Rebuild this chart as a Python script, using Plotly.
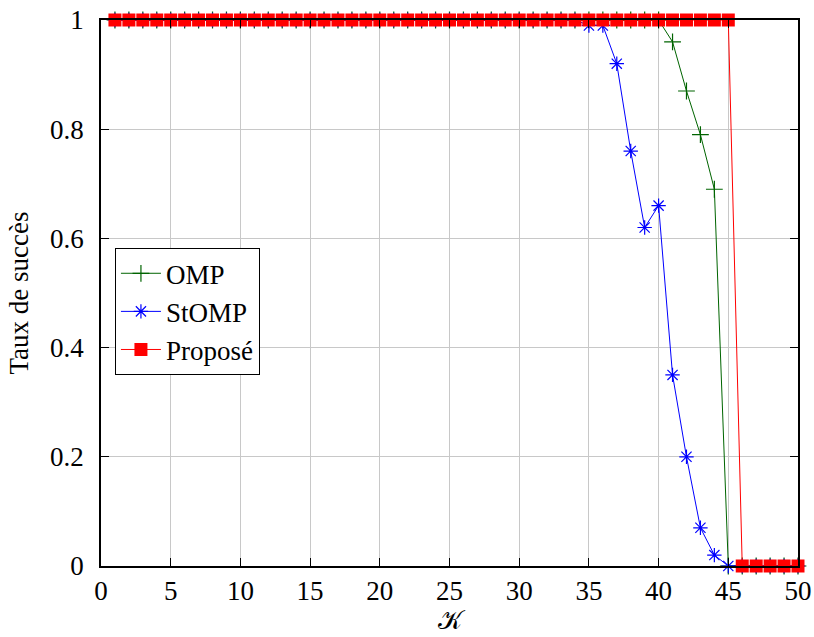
import plotly.graph_objects as go

K = list(range(1, 51))
omp = [1.0] * 40 + [0.96, 0.87, 0.79, 0.69, 0.0, 0.0, 0.0, 0.0, 0.0, 0.0]
stomp = [1.0] * 34 + [0.99, 0.99, 0.92, 0.76, 0.62, 0.66, 0.35, 0.20, 0.07, 0.02, 0.0,
                      0.0, 0.0, 0.0, 0.0, 0.0]
propose = [1.0] * 45 + [0.0] * 5

x_ticks = list(range(0, 51, 5))
y_ticks = [0, 0.2, 0.4, 0.6, 0.8, 1]
y_tick_labels = ["0", "0.2", "0.4", "0.6", "0.8", "1"]

FONT = "Liberation Serif"

fig = go.Figure()
fig.add_trace(go.Scatter(x=K, y=omp, name="OMP", mode="lines+markers",
                         line=dict(color="#006400", width=1),
                         marker=dict(symbol="cross-thin", size=12,
                                     line=dict(color="#006400", width=1.2)),
                         cliponaxis=False))
fig.add_trace(go.Scatter(x=K, y=stomp, name="StOMP", mode="lines+markers",
                         line=dict(color="#0000ff", width=1),
                         marker=dict(symbol="asterisk-open", size=12,
                                     line=dict(color="#0000ff", width=1.2)),
                         cliponaxis=False))
fig.add_trace(go.Scatter(x=K, y=propose, name="Proposé", mode="lines+markers",
                         line=dict(color="#ff0000", width=1),
                         marker=dict(symbol="square", size=13, color="#ff0000"),
                         cliponaxis=False))

axis_common = dict(showline=True, linecolor="black", linewidth=1.5, mirror="allticks",
                   ticks="inside", ticklen=8, tickcolor="black", tickwidth=1,
                   showgrid=True, gridcolor="#c8c8c8", gridwidth=1, zeroline=False,
                   automargin=False, ticklabeloverflow="allow",
                   tickfont=dict(family=FONT, size=27, color="black"))

fig.update_xaxes(range=[0, 50], tickvals=x_ticks, ticklabelstandoff=0,
                 title=dict(text="𝒦", font=dict(family=FONT, size=26, color="black"), standoff=0),
                 **axis_common)
fig.update_yaxes(range=[0, 1], tickvals=y_ticks, ticktext=y_tick_labels, ticklabelstandoff=10,
                 title=dict(text="Taux de succès", font=dict(family=FONT, size=27, color="black"), standoff=14),
                 **axis_common)

fig.update_layout(
    width=814, height=637,
    margin=dict(l=101, r=16, t=20, b=71),
    plot_bgcolor="white", paper_bgcolor="white",
    font=dict(family=FONT, size=27, color="black"),
    legend=dict(x=0.02, y=0.582, xanchor="left", yanchor="top",
                bgcolor="white", bordercolor="black", borderwidth=1,
                font=dict(family=FONT, size=27, color="black"),
                tracegroupgap=0, itemwidth=40),
    showlegend=True,
)

fig.write_html("out.html", config={"displayModeBar": False},
               post_script="document.body.style.margin='0';document.body.style.overflow='hidden';")
